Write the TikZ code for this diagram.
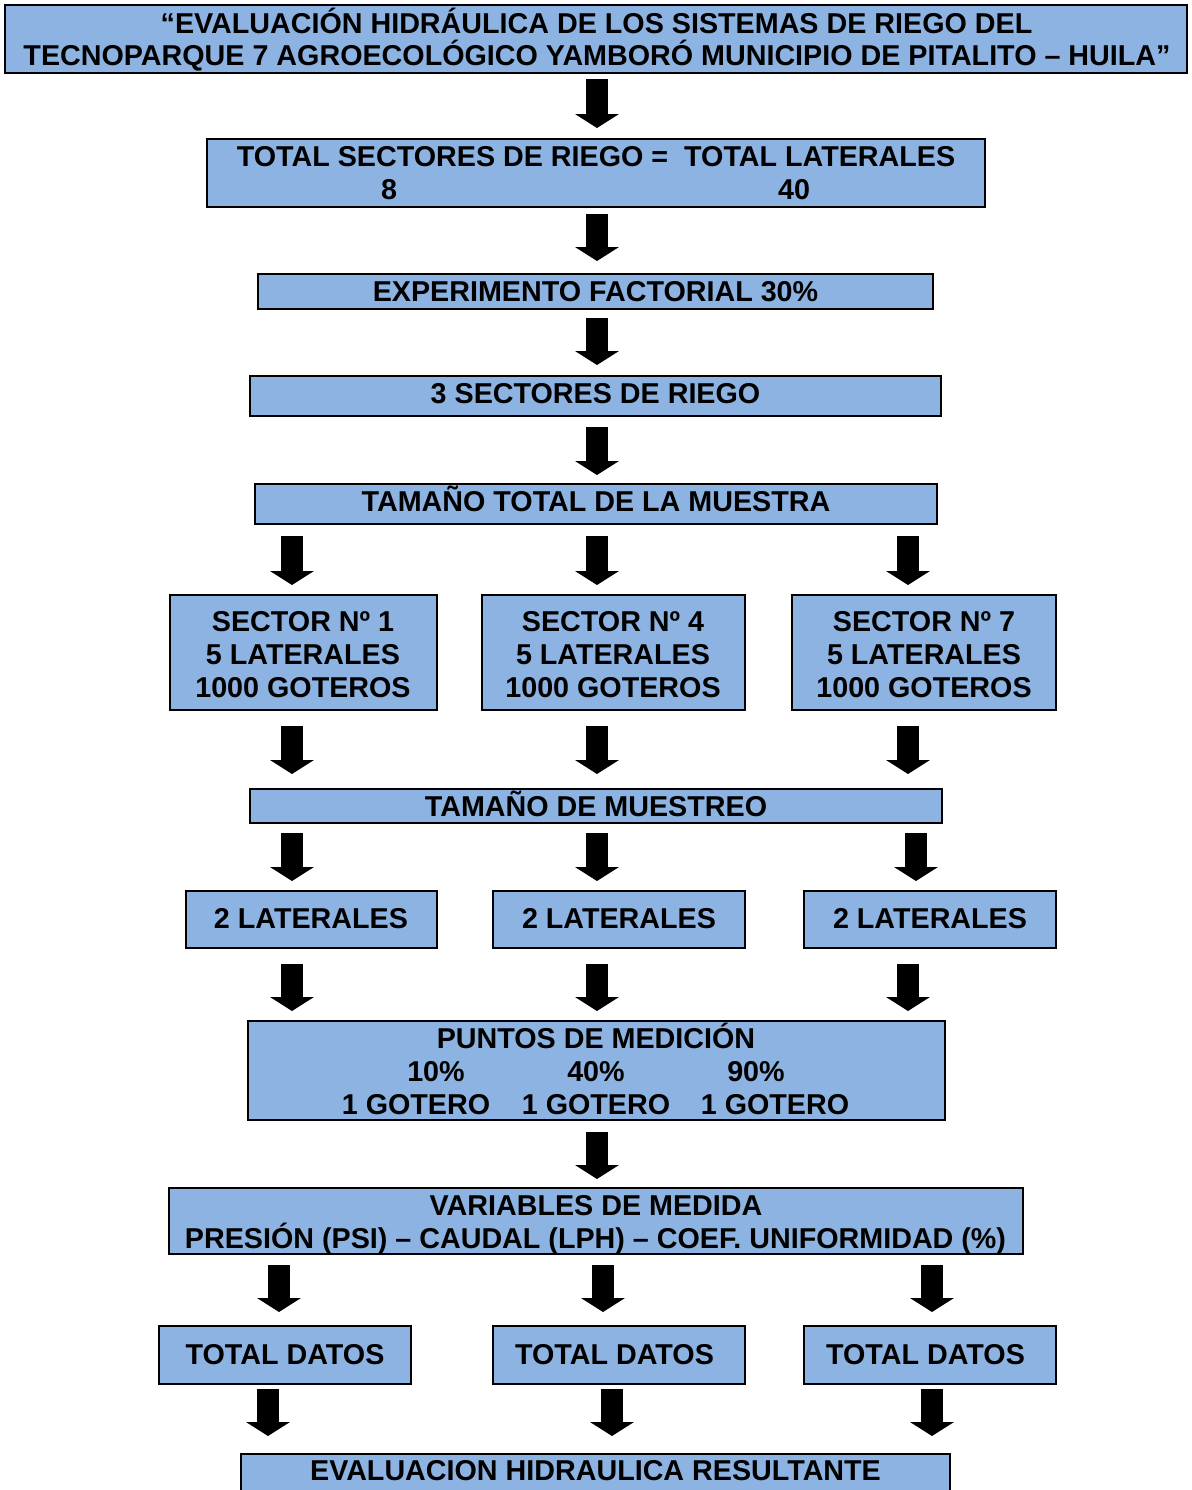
\documentclass[tikz,border=0pt]{standalone}
\usepackage{fontspec}
\setmainfont{Liberation Sans}
\usetikzlibrary{arrows.meta}
\definecolor{boxblue}{HTML}{8DB3E2}
\tikzset{
  bx/.style={draw=black, fill=boxblue, line width=1pt, inner sep=0pt},
  tx/.style={font=\fontsize{14.35pt}{16pt}\selectfont\bfseries, anchor=base, inner sep=0pt},
  blk/.style={line width=11pt, -{Triangle[width=22pt,length=7pt,line width=0pt]}},
}
\newcommand\barrow[5]{\draw[blk, shorten <=#4, shorten >=#5] (#2.south -| #1) -- (#3.north -| #1);}
\begin{document}
\begin{tikzpicture}[x=0.5pt,y=-0.5pt]
\useasboundingbox (0,0) rectangle (1191,1490);
\clip (0,0) rectangle (1191,1490);
% column coordinates for arrows
\coordinate (xc) at (597,0);
\coordinate (xc2) at (603,0);
\coordinate (xc3) at (612,0);
\coordinate (xl) at (292,0);
\coordinate (xl2) at (279,0);
\coordinate (xl3) at (268,0);
\coordinate (xr) at (908,0);
\coordinate (xr2) at (916,0);
\coordinate (xr3) at (932,0);

% boxes
\node[bx, minimum width=591pt, minimum height=34pt] (title) at (596,39) {};
\node[bx, minimum width=389pt, minimum height=34pt] (total) at (596,173) {};
\node[bx, minimum width=337.5pt, minimum height=17.5pt] (exp) at (595.5,291.5) {};
\node[bx, minimum width=345.5pt, minimum height=20pt] (tres) at (595.5,396) {};
\node[bx, minimum width=341pt, minimum height=20pt] (tam) at (596,504) {};
\node[bx, minimum width=133.5pt, minimum height=57.5pt] (s1) at (303.5,652.5) {};
\node[bx, minimum width=131.5pt, minimum height=57.5pt] (s4) at (613.5,652.5) {};
\node[bx, minimum width=132pt, minimum height=57.5pt] (s7) at (924,652.5) {};
\node[bx, minimum width=346pt, minimum height=17pt] (mues) at (596,806) {};
\node[bx, minimum width=125.5pt, minimum height=28.5pt] (l1) at (311.5,919.5) {};
\node[bx, minimum width=126pt, minimum height=28.5pt] (l2) at (619,919.5) {};
\node[bx, minimum width=126pt, minimum height=28.5pt] (l3) at (930,919.5) {};
\node[bx, minimum width=348.5pt, minimum height=49.5pt] (pun) at (596.5,1070.5) {};
\node[bx, minimum width=427pt, minimum height=33pt] (var) at (596,1221) {};
\node[bx, minimum width=126pt, minimum height=29pt] (d1) at (285,1355) {};
\node[bx, minimum width=126pt, minimum height=29pt] (d2) at (619,1355) {};
\node[bx, minimum width=126pt, minimum height=29pt] (d3) at (930,1355) {};
\node[bx, minimum width=354.5pt, minimum height=23pt] (eval) at (595.5,1477) {};

% texts
\node[tx] (t1a) at (596.5,33) {“EVALUACIÓN HIDRÁULICA DE LOS SISTEMAS DE RIEGO DEL};
\node[tx] (t1b) at (597,65) {TECNOPARQUE 7 AGROECOLÓGICO YAMBORÓ MUNICIPIO DE PITALITO – HUILA”};
\node[tx] (t2a) at (596,166) {TOTAL SECTORES DE RIEGO =\ \ TOTAL LATERALES};
\node[tx] (t2b) at (389,199) {8};
\node[tx] (t2c) at (794,199) {40};
\node[tx] (t3) at (595.5,301) {EXPERIMENTO FACTORIAL 30\%};
\node[tx] (t4) at (595.5,403) {3 SECTORES DE RIEGO};
\node[tx] (t5) at (596,511) {TAMAÑO TOTAL DE LA MUESTRA};
\foreach \x/\n in {303/1,613/4,924/7}{
  \node[tx] (ts\n a) at (\x,631) {SECTOR Nº \n};
  \node[tx] (ts\n b) at (\x,664) {5 LATERALES};
  \node[tx] (ts\n c) at (\x,697) {1000 GOTEROS};
}
\node[tx] (t7) at (596,816) {TAMAÑO DE MUESTREO};
\node[tx] (tl1) at (311,928) {2 LATERALES};
\node[tx] (tl2) at (619,928) {2 LATERALES};
\node[tx] (tl3) at (930,928) {2 LATERALES};
\node[tx] (tpa) at (596,1048) {PUNTOS DE MEDICIÓN};
\node[tx] (tp1) at (436,1081) {10\%};
\node[tx] (tp2) at (596,1081) {40\%};
\node[tx] (tp3) at (756,1081) {90\%};
\node[tx] (tg1) at (416,1114) {1 GOTERO};
\node[tx] (tg2) at (596,1114) {1 GOTERO};
\node[tx] (tg3) at (775,1114) {1 GOTERO};
\node[tx] (tva) at (596,1215) {VARIABLES DE MEDIDA};
\node[tx] (tvb) at (595.5,1248) {PRESIÓN (PSI) – CAUDAL (LPH) – COEF. UNIFORMIDAD (\%)};
\node[tx] (td1) at (285,1364) {TOTAL DATOS};
\node[tx] (td2) at (614.5,1364) {TOTAL DATOS};
\node[tx] (td3) at (925.5,1364) {TOTAL DATOS};
\node[tx] (te) at (595.5,1480) {EVALUACION HIDRAULICA RESULTANTE};

% arrows
\barrow{xc}{title}{total}{2.5pt}{5pt}
\barrow{xc}{total}{exp}{3pt}{6pt}
\barrow{xc}{exp}{tres}{4pt}{5pt}
\barrow{xc}{tres}{tam}{5pt}{4pt}
\barrow{xl}{tam}{s1}{5.5pt}{4.5pt}
\barrow{xc}{tam}{s4}{5.5pt}{4.5pt}
\barrow{xr}{tam}{s7}{5.5pt}{4.5pt}
\barrow{xl}{s1}{mues}{7.5pt}{7pt}
\barrow{xc}{s4}{mues}{7.5pt}{7pt}
\barrow{xr}{s7}{mues}{7.5pt}{7pt}
\barrow{xl}{mues}{l1}{4.5pt}{4.5pt}
\barrow{xc}{mues}{l2}{4.5pt}{4.5pt}
\barrow{xr2}{mues}{l3}{4.5pt}{4.5pt}
\barrow{xl}{l1}{pun}{7.5pt}{4.5pt}
\barrow{xc}{l2}{pun}{7.5pt}{4.5pt}
\barrow{xr}{l3}{pun}{7.5pt}{4.5pt}
\barrow{xc}{pun}{var}{5.5pt}{4pt}
\barrow{xl2}{var}{d1}{5pt}{6.5pt}
\barrow{xc2}{var}{d2}{5pt}{6.5pt}
\barrow{xr3}{var}{d3}{5pt}{6.5pt}
\barrow{xl3}{d1}{eval}{2pt}{8.5pt}
\barrow{xc3}{d2}{eval}{2pt}{8.5pt}
\barrow{xr3}{d3}{eval}{2pt}{8.5pt}
\end{tikzpicture}
\end{document}
